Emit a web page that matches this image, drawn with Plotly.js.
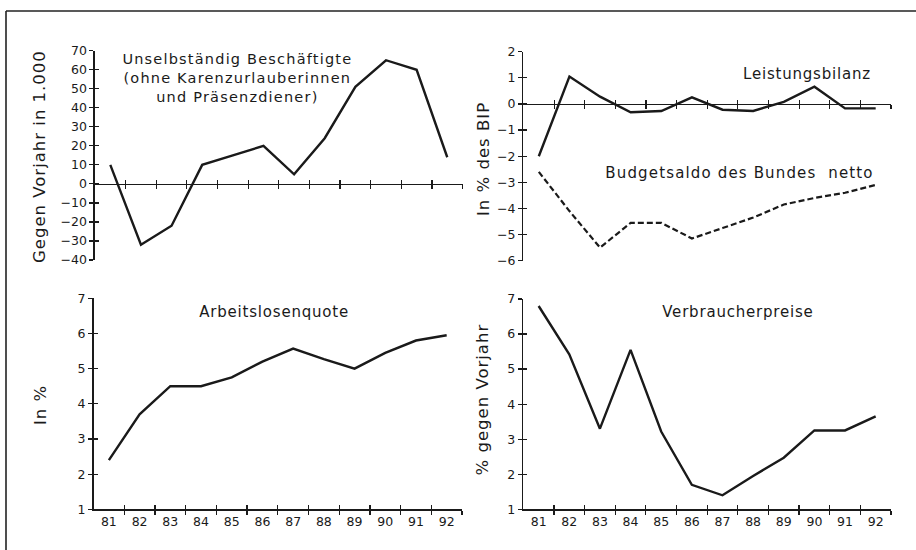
<!DOCTYPE html>
<html>
<head>
<meta charset="utf-8">
<script src="https://cdn.plot.ly/plotly-3.0.1.min.js"></script>
<style>html,body{margin:0;padding:0;background:#fff;overflow:hidden;}#chart{display:block;width:916px;height:550px;}</style>
</head>
<body>
<div id="chart"></div>
<script>
const years = [81, 82, 83, 84, 85, 86, 87, 88, 89, 90, 91, 92];
const yearLabels = ["81", "82", "83", "84", "85", "86", "87", "88", "89", "90", "91", "92"];
const beschaeftigte = [10, -32, -22, 10, 15, 20, 5, 24, 51, 65, 60, 14];
const leistungsbilanz = [-2.0, 1.05, 0.28, -0.32, -0.27, 0.25, -0.22, -0.27, 0.08, 0.66, -0.17, -0.17];
const budgetsaldo = [-2.6, -4.1, -5.5, -4.55, -4.55, -5.15, -4.75, -4.35, -3.85, -3.6, -3.4, -3.1];
const arbeitslosenquote = [2.4, 3.7, 4.5, 4.5, 4.75, 5.2, 5.57, 5.27, 5.0, 5.45, 5.8, 5.95];
const verbraucherpreise = [6.8, 5.42, 3.3, 5.55, 3.22, 1.7, 1.4, 1.95, 2.47, 3.25, 3.25, 3.65];

const yTicksBesch = [-40, -30, -20, -10, 0, 10, 20, 30, 40, 50, 60, 70];
const yTicksSaldo = [-6, -5, -4, -3, -2, -1, 0, 1, 2];
const yTicksPct = [1, 2, 3, 4, 5, 6, 7];

const INK = '#1a1a1a';
const FONT = 'DejaVu Sans, Liberation Sans, sans-serif';
const xRange = [years[0] - 0.5, years[years.length - 1] + 0.5];
const boundaries = years.slice(1).map(v => v - 0.5).concat([years[years.length - 1] + 0.5]);

const rBesch = [-40, 70], rSaldo = [-6, 2], rPct = [1, 7];
const dom = {
  tl: {x: [0.1037, 0.505], y: [0.5273, 0.9078]},
  tr: {x: [0.5715, 0.9727], y: [0.526, 0.906]},
  bl: {x: [0.1021, 0.5044], y: [0.074, 0.4576]},
  br: {x: [0.5713, 0.9727], y: [0.074, 0.4564]}
};
function zeroPos(d, r) { return d.y[0] + (0 - r[0]) / (r[1] - r[0]) * (d.y[1] - d.y[0]); }

const lineStyle = {color: INK, width: 2.4};
const traces = [
  {x: years, y: beschaeftigte, xaxis: 'x', yaxis: 'y', mode: 'lines', line: lineStyle},
  {x: years, y: leistungsbilanz, xaxis: 'x2', yaxis: 'y2', mode: 'lines', line: lineStyle},
  {x: years, y: budgetsaldo, xaxis: 'x2', yaxis: 'y2', mode: 'lines', line: {color: INK, width: 2.2, dash: '6px,3px'}},
  {x: years, y: arbeitslosenquote, xaxis: 'x3', yaxis: 'y3', mode: 'lines', line: lineStyle},
  {x: years, y: verbraucherpreise, xaxis: 'x4', yaxis: 'y4', mode: 'lines', line: lineStyle}
];
// invisible traces so the overlay axes (inner half of the crossing ticks) get drawn
for (let i = 5; i <= 8; i++) {
  traces.push({x: [null], y: [null], xaxis: 'x' + i, yaxis: 'y' + i, mode: 'lines', hoverinfo: 'skip', showlegend: false});
}

const tickFont = {family: FONT, size: 12.5, color: INK};
function yAx(d, r, vals, extra) {
  return Object.assign({domain: d.y, range: r, tickmode: 'array', tickvals: vals, ticks: 'outside', ticklen: 4,
    tickwidth: 1.2, tickcolor: INK, showline: true, linecolor: INK, linewidth: 1.5, showgrid: false,
    zeroline: false, tickfont: tickFont, fixedrange: true}, extra || {});
}
function yOv(base, r, vals, xa) {
  return {overlaying: base, anchor: xa, range: r, tickmode: 'array', tickvals: vals, ticks: 'inside', ticklen: 4,
    tickwidth: 1.2, tickcolor: INK, showline: false, showgrid: false, zeroline: false, showticklabels: false};
}
function xAx(d, extra) {
  return Object.assign({domain: d.x, range: xRange, tickmode: 'array', tickvals: boundaries, ticks: 'outside',
    ticklen: 4, tickwidth: 1.2, tickcolor: INK, showline: true, linecolor: INK, linewidth: 1.5, showgrid: false,
    zeroline: false, showticklabels: false, fixedrange: true}, extra || {});
}
function xOv(base, extra) {
  return Object.assign({overlaying: base, range: xRange, tickmode: 'array', tickvals: boundaries, ticks: 'inside',
    ticklen: 4, tickwidth: 1.2, tickcolor: INK, showline: false, showgrid: false, zeroline: false,
    showticklabels: false}, extra || {});
}

const layout = {
  width: 916, height: 550,
  margin: {l: 0, r: 0, t: 0, b: 0},
  paper_bgcolor: '#fff', plot_bgcolor: 'rgba(0,0,0,0)',
  showlegend: false,
  font: {family: FONT, color: INK},
  xaxis: xAx(dom.tl, {anchor: 'free', position: zeroPos(dom.tl, rBesch)}),
  yaxis: yAx(dom.tl, rBesch, yTicksBesch, {anchor: 'x'}),
  xaxis2: xAx(dom.tr, {anchor: 'free', position: zeroPos(dom.tr, rSaldo)}),
  yaxis2: yAx(dom.tr, rSaldo, yTicksSaldo, {anchor: 'x2'}),
  xaxis3: xAx(dom.bl, {anchor: 'y3'}),
  yaxis3: yAx(dom.bl, rPct, yTicksPct, {anchor: 'x3'}),
  xaxis4: xAx(dom.br, {anchor: 'y4'}),
  yaxis4: yAx(dom.br, rPct, yTicksPct, {anchor: 'x4'}),
  xaxis5: xOv('x', {anchor: 'free', position: zeroPos(dom.tl, rBesch)}),
  yaxis5: yOv('y', rBesch, yTicksBesch, 'x5'),
  xaxis6: xOv('x2', {anchor: 'free', position: zeroPos(dom.tr, rSaldo)}),
  yaxis6: yOv('y2', rSaldo, yTicksSaldo, 'x6'),
  xaxis7: xOv('x3', {anchor: 'y7'}),
  yaxis7: yOv('y3', rPct, yTicksPct, 'x7'),
  xaxis8: xOv('x4', {anchor: 'y8'}),
  yaxis8: yOv('y4', rPct, yTicksPct, 'x8'),
  // year labels for the bottom panels, centred on the categories (no ticks)
  xaxis9: {overlaying: 'x3', anchor: 'y3', range: xRange, tickmode: 'array', tickvals: years, ticktext: yearLabels,
    ticks: '', ticklabelstandoff: 3, showline: false, showgrid: false, zeroline: false, tickfont: tickFont},
  xaxis10: {overlaying: 'x4', anchor: 'y4', range: xRange, tickmode: 'array', tickvals: years, ticktext: yearLabels,
    ticks: '', ticklabelstandoff: 3, showline: false, showgrid: false, zeroline: false, tickfont: tickFont},
  shapes: [
    {type: 'line', xref: 'paper', yref: 'paper', x0: 6 / 916, x1: 1, y0: 1 - 11 / 550, y1: 1 - 11 / 550, line: {color: '#222', width: 1.6}},
    {type: 'line', xref: 'paper', yref: 'paper', x0: 6 / 916, x1: 6 / 916, y0: 0, y1: 1 - 11 / 550, line: {color: '#222', width: 1.6}}
  ],
  annotations: []
};
traces.push({x: [null], y: [null], xaxis: 'x9', yaxis: 'y3', mode: 'lines', hoverinfo: 'skip'});
traces.push({x: [null], y: [null], xaxis: 'x10', yaxis: 'y4', mode: 'lines', hoverinfo: 'skip'});

const ann = layout.annotations;
const spacing = [];
function txt(text, xp, yp, size, ls, extra) {
  ann.push(Object.assign({text: text, xref: 'paper', yref: 'paper', x: xp / 916, y: 1 - yp / 550,
    xanchor: 'center', yanchor: 'middle', showarrow: false, font: {family: FONT, size: size, color: INK}}, extra || {}));
  spacing.push(ls);
}
txt('Unselbständig Beschäftigte<br>(ohne Karenzurlauberinnen<br>und Präsenzdiener)', 237, 78, 14.5, 1.2);
txt('Leistungsbilanz', 867, 74, 15, 0.8, {xanchor: 'right'});
txt('Budgetsaldo des Bundes  netto', 859, 173, 15, 1.15, {xanchor: 'right'});
txt('Arbeitslosenquote', 274, 312, 15, 0.8);
txt('Verbraucherpreise', 738, 312, 15, 0.8);
txt('Gegen Vorjahr in 1.000', 40, 157, 16.5, 1.0, {textangle: -90});
txt('In % des BIP', 483, 159, 16.5, 1.0, {textangle: -90});
txt('In %', 40, 405, 16.5, 1.0, {textangle: -90});
txt('% gegen Vorjahr', 482, 399, 16.5, 1.0, {textangle: -90});

Plotly.newPlot('chart', traces, layout, {staticPlot: true, displayModeBar: false}).then(function (gd) {
  gd.querySelectorAll('g.annotation').forEach(function (g) {
    const i = +g.getAttribute('data-index');
    const t = g.querySelector('text.annotation-text');
    if (t && spacing[i] != null) t.style.letterSpacing = spacing[i] + 'px';
  });
});
</script>
</body>
</html>
